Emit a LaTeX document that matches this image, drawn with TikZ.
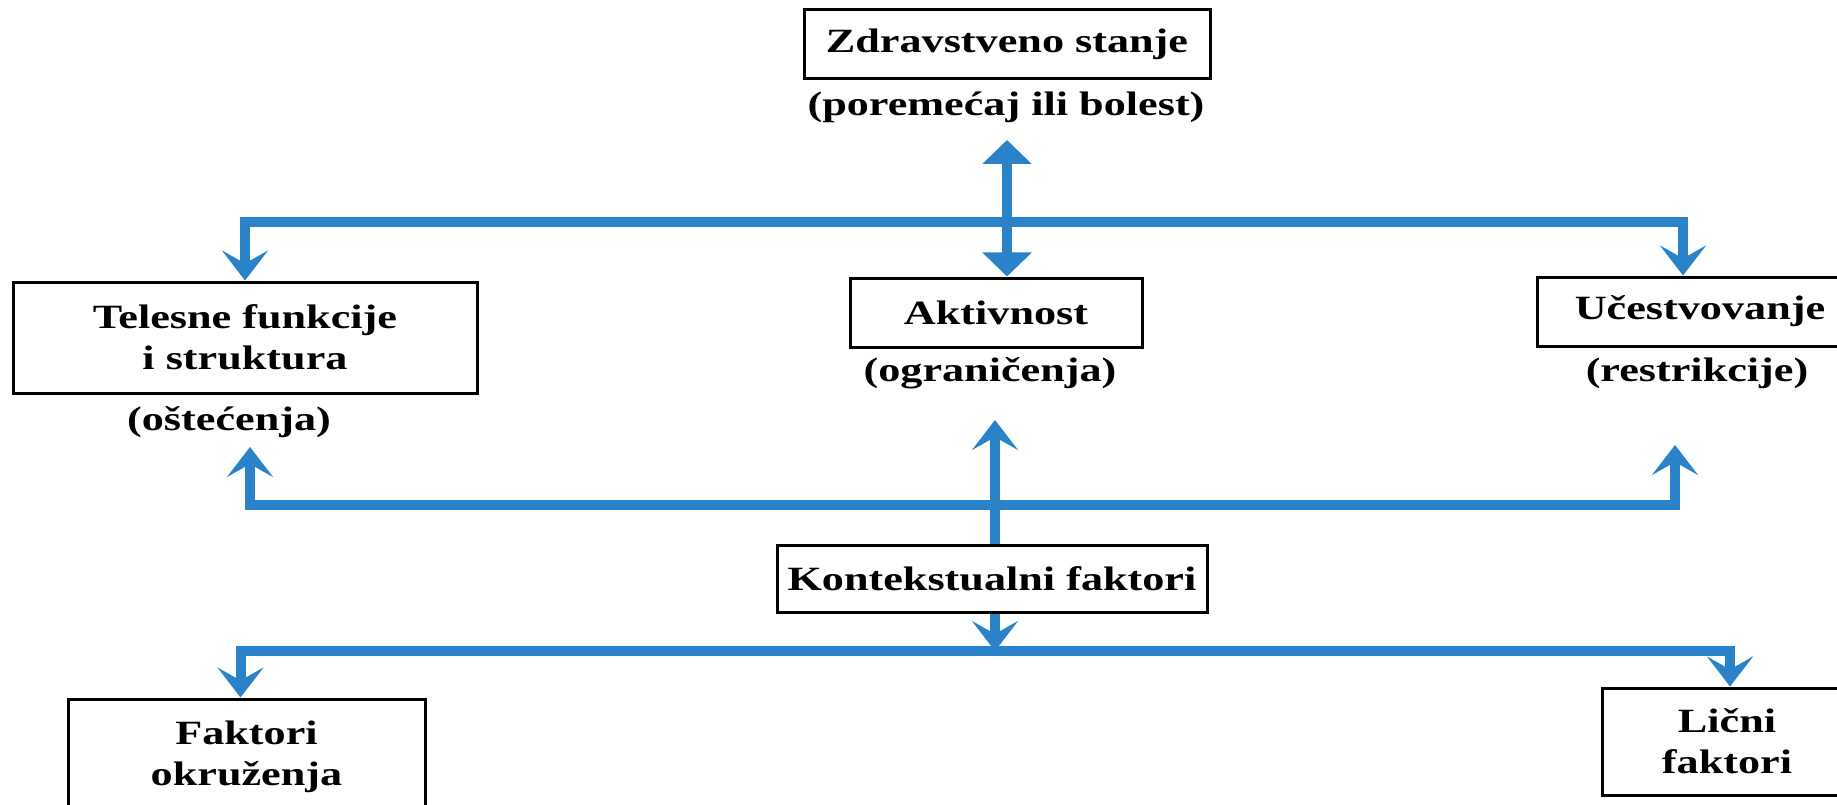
\documentclass[tikz,border=0pt]{standalone}
\usepackage{fontspec}
\setmainfont[FakeStretch=1.3]{Liberation Serif}
\usetikzlibrary{arrows.meta}
\definecolor{myblue}{RGB}{42,130,200}
\begin{document}
\begin{tikzpicture}[x=1pt,y=-1pt,
  box/.style={draw=black, line width=3pt, inner sep=0pt, font=\bfseries\fontsize{34}{41}\selectfont, align=center, text=black},
  lbl/.style={inner sep=0pt, font=\bfseries\fontsize{34}{41}\selectfont, text=black},
  conn/.style={draw=myblue, line width=10pt},
  chev/.style={-{Stealth[length=30pt,width=46pt,inset=13pt]}},
  tri/.style={{Triangle[length=24pt,width=48pt]}-{Triangle[length=24pt,width=48pt]}}
]
\useasboundingbox[fill=white] (0,0) rectangle (1837,805);

% boxes and labels
\node[box, minimum width=406pt, minimum height=69pt] (zdr) at (1007,44.5) {Zdravstveno stanje};
\node[lbl] (zdrl) at (1006,107) {(poremećaj ili bolest)};

\node[box, minimum width=464pt, minimum height=111pt] (tel) at (245,337.5) {Telesne funkcije\\i struktura};
\node[lbl] (tell) at (229,422) {(oštećenja)};

\node[box, minimum width=292pt, minimum height=69pt] (akt) at (996,312.5) {Aktivnost};
\node[lbl] (aktl) at (990,373) {(ograničenja)};

\node[box, minimum width=326pt, minimum height=69pt] (uce) at (1700,311.5) {Učestvovanje};
\node[lbl] (ucel) at (1697,373) {(restrikcije)};

\node[box, minimum width=430pt, minimum height=67pt] (kon) at (992,578.5) {Kontekstualni faktori};

\node[box, minimum width=357pt, minimum height=115pt] (fak) at (246.5,756.5) {Faktori\\okruženja};
\node[box, minimum width=250pt, minimum height=107pt] (lic) at (1727,741.5) {Lični\\faktori};

% junction coordinates
\coordinate (dtop) at (1007,140);
\coordinate (tM) at (1007,222);
\coordinate (mM) at (995,505);
\coordinate (aU) at (995,420);
\coordinate (tU) at (250,447);
\coordinate (uU) at (1675,445);
\coordinate (bM) at (995,651);

% top double arrow
\draw[conn,tri] (dtop) -- (dtop |- akt.north);
% top bus
\draw[conn,chev] (tM) -| (tel.north);
\draw[conn,chev] (tM) -| ([xshift=-17pt]uce.north);
% middle bus
\draw[conn,chev] (kon.north -| mM) -- (aU);
\draw[conn,chev] (mM) -| (tU);
\draw[conn,chev] (mM) -| (uU);
% bottom
\draw[conn,chev] (kon.south -| bM) -- (bM);
\draw[conn,chev] (bM) -| ([xshift=-6pt]fak.north);
\draw[conn,chev] (bM) -| ([xshift=3pt]lic.north);
\end{tikzpicture}
\end{document}
